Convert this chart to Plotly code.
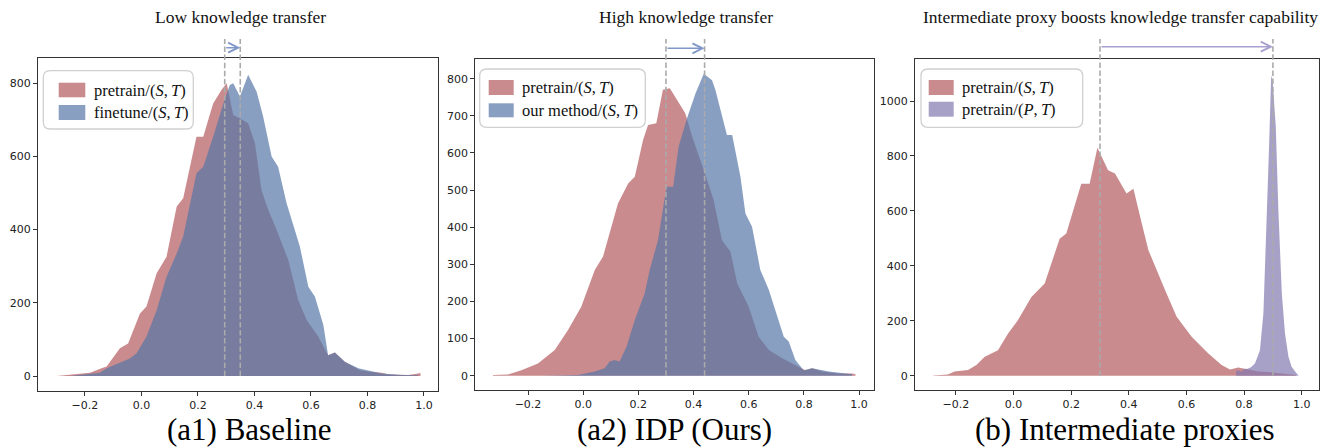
import plotly.graph_objects as go

# ---------------- data ----------------
a1_pre_x = [-0.300, -0.253, -0.182, -0.141, -0.123, -0.076, -0.047, -0.005, 0.018, 0.054, 0.089, 0.125, 0.148, 0.195, 0.219, 0.254, 0.284, 0.302, 0.325, 0.349, 0.378, 0.402, 0.425, 0.449, 0.479, 0.520, 0.555, 0.585, 0.626, 0.661, 0.685, 0.720, 0.774, 0.803, 0.850, 0.874, 0.909, 0.945, 0.980, 0.988]
a1_pre_y = [0, 3, 9, 21, 26, 76, 89, 171, 190, 281, 326, 463, 486, 654, 654, 745, 782, 800, 713, 704, 691, 636, 508, 454, 399, 317, 208, 153, 108, 57, 64, 39, 16, 12, 9, 5, 3, 3, 7, 8]
a1_ft_x = [-0.253, -0.218, -0.147, -0.123, -0.041, -0.017, 0.018, 0.054, 0.089, 0.125, 0.148, 0.195, 0.219, 0.254, 0.290, 0.313, 0.325, 0.349, 0.378, 0.408, 0.431, 0.461, 0.484, 0.514, 0.561, 0.591, 0.614, 0.644, 0.661, 0.685, 0.720, 0.768, 0.850, 0.915, 0.980]
a1_ft_y = [0, 3, 9, 21, 48, 62, 108, 180, 271, 335, 381, 554, 572, 654, 745, 795, 800, 764, 823, 777, 709, 600, 572, 472, 354, 244, 217, 140, 57, 64, 39, 21, 7, 3, 2]

a2_pre_x = [-0.327, -0.273, -0.224, -0.164, -0.103, -0.055, -0.007, 0.042, 0.072, 0.126, 0.163, 0.187, 0.217, 0.235, 0.265, 0.289, 0.314, 0.322, 0.370, 0.395, 0.437, 0.473, 0.503, 0.534, 0.558, 0.600, 0.636, 0.673, 0.721, 0.757, 0.805, 0.830, 0.866, 0.902, 0.926, 0.975, 0.987]
a2_pre_y = [2, 3, 15, 33, 69, 123, 186, 285, 321, 464, 518, 536, 635, 675, 680, 770, 774, 765, 707, 644, 554, 473, 365, 334, 249, 186, 105, 69, 47, 33, 15, 20, 11, 8, 6, 6, 4]
a2_our_x = [-0.146, -0.019, 0.042, 0.078, 0.096, 0.114, 0.132, 0.157, 0.187, 0.223, 0.241, 0.271, 0.302, 0.326, 0.346, 0.376, 0.407, 0.437, 0.467, 0.479, 0.521, 0.540, 0.570, 0.588, 0.612, 0.642, 0.673, 0.697, 0.727, 0.745, 0.769, 0.799, 0.830, 0.890, 0.975]
a2_our_y = [0, 2, 11, 20, 38, 42, 38, 78, 150, 222, 285, 365, 509, 509, 617, 693, 760, 813, 796, 770, 648, 648, 536, 437, 401, 285, 231, 177, 105, 92, 42, 15, 20, 11, 4]

b_pre_x = [-0.280, -0.228, -0.205, -0.158, -0.129, -0.100, -0.054, -0.019, 0.015, 0.062, 0.108, 0.160, 0.183, 0.235, 0.264, 0.291, 0.328, 0.352, 0.392, 0.416, 0.445, 0.468, 0.526, 0.566, 0.618, 0.676, 0.722, 0.751, 0.780, 0.815, 0.850, 0.900, 0.950, 0.980]
b_pre_y = [1, 4, 15, 21, 39, 69, 93, 154, 202, 287, 336, 499, 518, 699, 699, 830, 748, 736, 663, 681, 554, 457, 311, 215, 142, 81, 39, 23, 30, 22, 15, 12, 8, 3]
b_proxy_x = [0.772, 0.780, 0.790, 0.800, 0.813, 0.825, 0.838, 0.855, 0.867, 0.878, 0.887, 0.894, 0.899, 0.910, 0.919, 0.931, 0.942, 0.954, 0.965, 0.977, 0.988]
b_proxy_y = [15, 20, 14, 24, 25, 32, 45, 93, 227, 542, 845, 1093, 1075, 905, 602, 299, 154, 69, 33, 15, 2]

# dashed reference positions (start -> end of shift)
a1_shift = [0.295, 0.35]
a2_shift = [0.30, 0.44]
b_shift = [0.30, 0.90]

x_tickvals = [-0.2, 0.0, 0.2, 0.4, 0.6, 0.8, 1.0]
x_ticktext = ["\u22120.2", "0.0", "0.2", "0.4", "0.6", "0.8", "1.0"]

titles = ["Low knowledge transfer", "High knowledge transfer",
          "Intermediate proxy boosts knowledge transfer capability"]
captions = ["(a1) Baseline", "(a2) IDP (Ours)", "(b) Intermediate proxies"]
legend_labels = [
    ["pretrain/(<i>S</i>,\u2009<i>T</i>)", "finetune/(<i>S</i>,\u2009<i>T</i>)"],
    ["pretrain/(<i>S</i>,\u2009<i>T</i>)", "our method/(<i>S</i>,\u2009<i>T</i>)"],
    ["pretrain/(<i>S</i>,\u2009<i>T</i>)", "pretrain/(<i>P</i>,\u2009<i>T</i>)"],
]

# ---------------- style ----------------
W, H = 1329, 448
RED = "rgba(180,90,94,0.7)"
BLUE = "rgba(86,118,166,0.7)"
PURPLE = "rgba(131,121,175,0.7)"
ARROW_BLUE = "#7f98c9"
ARROW_PURPLE = "#a99fd0"
SERIF = "Liberation Serif, Times New Roman, serif"
SANS = "DejaVu Sans, sans-serif"

def px2paper_x(px):
    return px / W

def px2paper_y(py):
    return 1 - py / H

# panel boxes in pixels (left, top, right, bottom)
boxes = [(38, 58, 438, 391), (475.3, 59, 874, 390), (915, 59, 1319.3, 390)]
xranges = [[-0.366, 1.05], [-0.391, 1.054], [-0.342, 1.061]]
yranges = [[-41, 869], [-38.5, 853], [-52, 1153]]
ydticks = [200, 100, 200]
title_cx = [240, 686, 1120]
caption_cx = [249, 674, 1125]

series = [
    [(a1_pre_x, a1_pre_y, RED), (a1_ft_x, a1_ft_y, BLUE)],
    [(a2_pre_x, a2_pre_y, RED), (a2_our_x, a2_our_y, BLUE)],
    [(b_pre_x, b_pre_y, RED), (b_proxy_x, b_proxy_y, PURPLE)],
]
shifts = [a1_shift, a2_shift, b_shift]
arrow_cols = [ARROW_BLUE, ARROW_BLUE, ARROW_PURPLE]
arrow_py = [47.7, 48.3, 46.7]

legend_geo = [
    dict(box=(43.3, 70.7, 193.3, 129), px=(58.7, 85.3), rows=[(82.7, 97.3), (105, 120)], tx=91.7, ty=[90, 112.5]),
    dict(box=(479.7, 69, 645.3, 127.3), px=(488.7, 513.7), rows=[(80, 95), (103.3, 117.3)], tx=519.7, ty=[87.5, 110.3]),
    dict(box=(921, 69, 1082.7, 127.3), px=(928.7, 953.7), rows=[(80, 95), (101.7, 116.7)], tx=960, ty=[87.5, 109.2]),
]

fig = go.Figure()
shapes = []
annotations = []

def rrect_path(x0, y0, x1, y1, r):
    def P(a, b):
        return f"{px2paper_x(a):.6f},{px2paper_y(b):.6f}"
    return (f"M{P(x0 + r, y0)} L{P(x1 - r, y0)} Q{P(x1, y0)} {P(x1, y0 + r)} "
            f"L{P(x1, y1 - r)} Q{P(x1, y1)} {P(x1 - r, y1)} L{P(x0 + r, y1)} "
            f"Q{P(x0, y1)} {P(x0, y1 - r)} L{P(x0, y0 + r)} Q{P(x0, y0)} {P(x0 + r, y0)} Z")

for i in range(3):
    k = "" if i == 0 else str(i + 1)
    xa, ya = "x" + k, "y" + k
    l, t, r, b = boxes[i]
    xdom = [px2paper_x(l), px2paper_x(r)]
    ydom = [px2paper_y(b), px2paper_y(t)]
    axis_common = dict(showline=True, mirror=True, linecolor="#333333", linewidth=1,
                       ticks="outside", ticklen=4, tickwidth=1, tickcolor="#333333",
                       showgrid=False, zeroline=False,
                       tickfont=dict(family=SANS, size=11, color="#222222"))
    fig.update_layout(**{
        "xaxis" + k: dict(domain=xdom, range=xranges[i], anchor=ya,
                          tickmode="array", tickvals=x_tickvals, ticktext=x_ticktext, **axis_common),
        "yaxis" + k: dict(domain=ydom, range=yranges[i], anchor=xa,
                          tick0=0, dtick=ydticks[i], **axis_common),
    })
    for (sx, sy, col) in series[i]:
        fig.add_trace(go.Scatter(x=sx, y=sy, mode="lines", fill="tozeroy",
                                 fillcolor=col, line=dict(width=0, color=col),
                                 xaxis=xa, yaxis=ya, hoverinfo="skip", showlegend=False))
    # dashed lines from y=0 up beyond the frame
    y_zero_paper = ydom[0] + (0 - yranges[i][0]) / (yranges[i][1] - yranges[i][0]) * (ydom[1] - ydom[0])
    for sx in shifts[i]:
        shapes.append(dict(type="line", xref=xa, yref="paper", x0=sx, x1=sx,
                           y0=y_zero_paper, y1=px2paper_y(39),
                           line=dict(color="#aaaaaa", width=1.6, dash="5.5px,2.6px"), layer="above"))
    # arrow
    annotations.append(dict(x=shifts[i][1], y=px2paper_y(arrow_py[i]), xref=xa, yref="paper",
                            ax=shifts[i][0], axref=xa, ay=0, ayref="pixel",
                            text="", showarrow=True, arrowhead=5, arrowsize=1.4, arrowwidth=1.4,
                            arrowcolor=arrow_cols[i], standoff=0, startstandoff=0))
    # titles and captions
    annotations.append(dict(x=px2paper_x(title_cx[i]), y=px2paper_y(17), xref="paper", yref="paper",
                            text=titles[i], showarrow=False, xanchor="center", yanchor="middle",
                            font=dict(family=SERIF, size=17.5, color="#111111")))
    annotations.append(dict(x=px2paper_x(caption_cx[i]), y=px2paper_y(429), xref="paper", yref="paper",
                            text=captions[i], showarrow=False, xanchor="center", yanchor="middle",
                            font=dict(family=SERIF, size=31, color="#000000")))
    # legend (manual)
    g = legend_geo[i]
    bx0, by0, bx1, by1 = g["box"]
    shapes.append(dict(type="path", xref="paper", yref="paper", path=rrect_path(bx0, by0, bx1, by1, 7),
                       fillcolor="rgba(255,255,255,0.85)", line=dict(color="#d0d0d0", width=1.3), layer="above"))
    for j, (sx, sy, col) in enumerate(series[i]):
        ry0, ry1 = g["rows"][j]
        shapes.append(dict(type="rect", xref="paper", yref="paper",
                           x0=px2paper_x(g["px"][0]), x1=px2paper_x(g["px"][1]),
                           y0=px2paper_y(ry1), y1=px2paper_y(ry0),
                           fillcolor=col, line=dict(width=0), layer="above"))
        annotations.append(dict(x=px2paper_x(g["tx"]), y=px2paper_y(g["ty"][j]), xref="paper", yref="paper",
                                text=legend_labels[i][j], showarrow=False, xanchor="left", yanchor="middle",
                                font=dict(family=SERIF, size=16.5, color="#111111")))

fig.update_layout(width=W, height=H, margin=dict(l=0, r=0, t=0, b=0),
                  paper_bgcolor="white", plot_bgcolor="white", showlegend=False,
                  shapes=shapes, annotations=annotations)

fig.write_html("out.html")
